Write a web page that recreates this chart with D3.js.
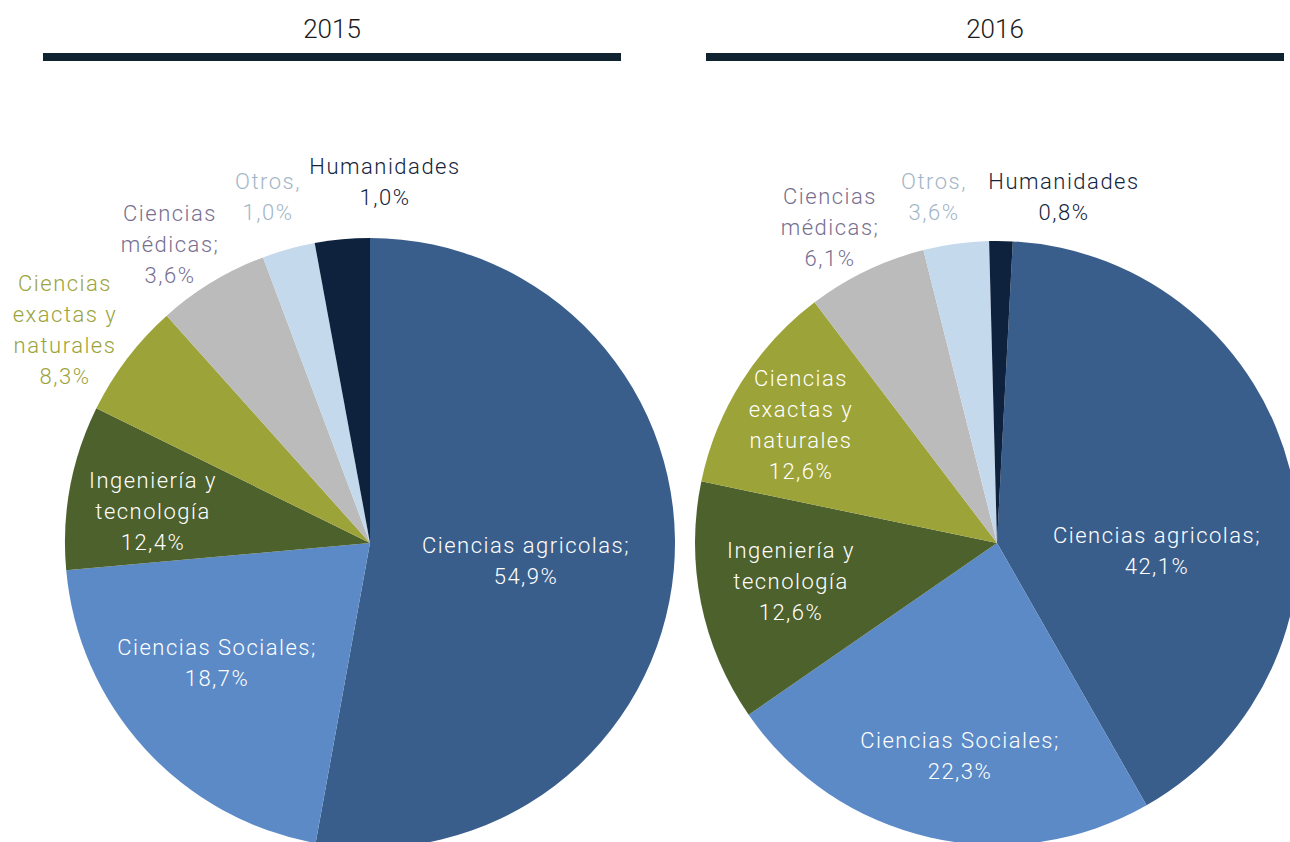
<!DOCTYPE html>
<html lang="es">
<head>
<meta charset="UTF-8">
<title>Pie 2015 / 2016</title>
<style>
    html, body { margin: 0; padding: 0; background: #fff; }
    svg { display: block; }
    text { font-family: Roboto, "DejaVu Sans", sans-serif; }
</style>
</head>
<body>
<script src="https://cdn.jsdelivr.net/npm/d3@7"></script>
<script>
    const width = 1290
    const height = 842

    // datos
    const categories = ['Ciencias agricolas', 'Ciencias Sociales', 'Ingeniería y tecnología',
        'Ciencias exactas y naturales', 'Ciencias médicas', 'Otros', 'Humanidades']
    const nameLines = [['Ciencias agricolas;'], ['Ciencias Sociales;'], ['Ingeniería y', 'tecnología'],
        ['Ciencias', 'exactas y', 'naturales'], ['Ciencias', 'médicas;'], ['Otros,'], ['Humanidades']]
    const years = ['2015', '2016']
    // tamaño de cada porción tal como está dibujada (%)
    const shares2015 = [52.8, 20.7, 8.7, 6.1, 5.9, 2.8, 2.9]
    const shares2016 = [40.9, 23.6, 12.9, 11.4, 6.4, 3.5, 1.25]
    // etiquetas impresas
    const pct2015 = ['54,9%', '18,7%', '12,4%', '8,3%', '3,6%', '1,0%', '1,0%']
    const pct2016 = ['42,1%', '22,3%', '12,6%', '12,6%', '6,1%', '3,6%', '0,8%']

    const fills = ['#3a5e8c', '#5b8ac6', '#4d612c', '#9ca338', '#bbbbbb', '#c5d9ec', '#0e223d']
    const outsideColors = ['#ffffff', '#ffffff', '#ffffff', '#9ba33a', '#776f8f', '#a3b6c6', '#13243b']

    // layout
    const pies = [
        { year: years[0], shares: shares2015, pct: pct2015, cx: 370, cy: 543, r: 305, start: 0,
          titleX: 332, barX0: 43, barX1: 621,
          inside: [1, 1, 1, 0, 0, 0, 0],
          offsets: [[156, 2], [-153, 104], [-217, -63], [-305, -260], [-200, -330], [-102, -362], [15, -377]] },
        { year: years[1], shares: shares2016, pct: pct2016, cx: 997, cy: 543, r: 302, start: 3,
          titleX: 995, barX0: 706, barX1: 1284,
          inside: [1, 1, 1, 1, 0, 0, 0],
          offsets: [[160, -8], [-37, 197], [-206, 7], [-196, -165], [-167, -347], [-63, -362], [67, -362]] }
    ]
    const lineH = 31

    const svg = d3.select('body').append('svg')
        .attr('width', width)
        .attr('height', height)

    pies.forEach(drawPie)

    function drawPie(p) {
        // titulo y barra
        svg.append('text')
            .attr('x', p.titleX)
            .attr('y', 38)
            .attr('text-anchor', 'middle')
            .attr('font-size', 26)
            .attr('font-weight', 300)
            .attr('fill', '#1b1b1b')
            .text(p.year)
        svg.append('rect')
            .attr('x', p.barX0)
            .attr('y', 53)
            .attr('width', p.barX1 - p.barX0)
            .attr('height', 8)
            .attr('fill', '#0f2330')

        const a0 = p.start * Math.PI / 180
        const pie = d3.pie()
            .sort(null)
            .startAngle(a0)
            .endAngle(a0 + 2 * Math.PI)
            .value(d => d)
        const arcs = pie(p.shares)
        const arc = d3.arc().innerRadius(0).outerRadius(p.r)

        const g = svg.append('g')
            .attr('transform', `translate(${p.cx},${p.cy})`)

        g.selectAll('path')
            .data(arcs)
            .join('path')
            .attr('d', arc)
            .attr('fill', (_, i) => fills[i])

        const labels = g.selectAll('text.lbl')
            .data(arcs)
            .join('text')
            .attr('class', 'lbl')
            .attr('text-anchor', 'middle')
            .attr('font-size', 22)
            .attr('font-weight', 300)
            .attr('letter-spacing', '1.5px')
            .attr('fill', (_, i) => p.inside[i] ? '#ffffff' : outsideColors[i])
            .attr('transform', (_, i) => `translate(${p.offsets[i][0]},${p.offsets[i][1]})`)

        labels.each(function (d, i) {
            const t = d3.select(this)
            const lines = nameLines[i].slice()
            lines.push(p.pct[i])
            lines.forEach((s, k) => {
                t.append('tspan')
                    .attr('x', 0)
                    .attr('y', k * lineH)
                    .attr('dominant-baseline', 'central')
                    .text(s)
            })
        })
    }
</script>
</body>
</html>
